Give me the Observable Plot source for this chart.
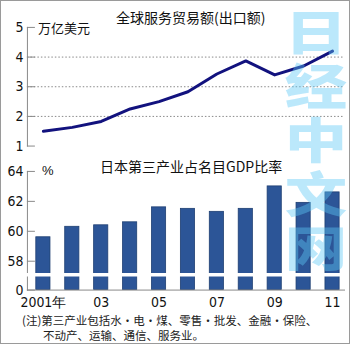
<!DOCTYPE html>
<html>
<head>
<meta charset="utf-8">
<script src="https://cdn.jsdelivr.net/npm/d3@7"></script>
<script src="https://cdn.jsdelivr.net/npm/@observablehq/plot@0.6"></script>
<style>
  html, body { margin: 0; padding: 0; background: #fff; }
  #wrap { position: relative; width: 350px; height: 344px; box-sizing: border-box; border: 1px solid #9a9a9a; overflow: hidden; background: #fff;
          font-family: "Noto Sans CJK SC", "Liberation Sans", sans-serif; color: #111; }
  #wrap .abs { position: absolute; white-space: nowrap; line-height: 1; }
  #top, #bottom { position: absolute; left: -1px; }
  #top { top: -1px; }
  #bottom { top: 149px; }
  .t { font-size: 14px; }
  .note { font-size: 11.5px; color: #222; }
  #wm { position: absolute; left: 291px; top: 7px; width: 48px; font-family: "Noto Sans CJK SC", sans-serif;
        writing-mode: vertical-rl; text-orientation: upright; white-space: nowrap;
        font-weight: 900; font-size: 48px; line-height: 48px; letter-spacing: 6px; color: rgba(92, 200, 245, 0.42); pointer-events: none;
        transform: scaleX(1.3); transform-origin: center; }
</style>
</head>
<body>
<div id="wrap">
  <div id="top"></div>
  <div id="bottom"></div>
  <div class="abs t" style="left:115px; top:9px;">全球服务贸易额(出口额)</div>
  <div class="abs" style="left:37px; top:20px; font-size:13px;">万亿美元</div>
  <div class="abs t" style="left:99px; top:158px;">日本第三产业占名目GDP比率</div>
  <div class="abs t" style="left:41px; top:163px; font-family:'Liberation Sans', sans-serif; font-size:13px;">%</div>
  <div class="abs note" style="left:21px; top:314px;">(注)第三产业包括水・电・煤、零售・批发、金融・保险、</div>
  <div class="abs note" style="left:42px; top:329px;">不动产、运输、通信、服务业。</div>
  <div id="wm">日经中文网</div>
</div>
<script>
const years = [2001, 2002, 2003, 2004, 2005, 2006, 2007, 2008, 2009, 2010, 2011];
const tradeValues = [1.5, 1.63, 1.83, 2.25, 2.5, 2.83, 3.43, 3.87, 3.4, 3.7, 4.2];
const gdpShare = [59.6, 60.3, 60.4, 60.6, 61.6, 61.5, 61.3, 61.5, 63.0, 61.9, 62.6];
const xTickYears = [2001, 2003, 2005, 2007, 2009, 2011];
const xTickLabels = ["2001年", "03", "05", "07", "09", "11"];
const topTicks = [1, 2, 3, 4, 5];
const topGrid = [2, 3, 4];
const bottomTicks = [58, 60, 62, 64];
const bottomFloor = 56.07;   // stands for the "0" of the broken axis
const breakAt = 57.1;

const trade = years.map((y, i) => ({year: y, value: tradeValues[i]}));
const share = years.map((y, i) => ({year: y, value: gdpShare[i]}));

const fontStyle = {fontFamily: "'Liberation Sans Narrow', 'DejaVu Sans Condensed', 'Liberation Sans', Arial, sans-serif", fontSize: "14px", color: "#111", background: "transparent", overflow: "visible"};

const topChart = Plot.plot({
  width: 350, height: 155,
  marginTop: 27, marginBottom: 9, marginLeft: 27, marginRight: 5,
  style: fontStyle,
  x: {domain: [2001, 2011], insetLeft: 16, insetRight: 12, axis: null},
  y: {domain: [1, 5], axis: null},
  marks: [
    Plot.gridY(topGrid, {stroke: "#8a8a8a", strokeOpacity: 1, strokeDasharray: "1.5,2"}),
    Plot.frame({anchor: "left", stroke: "#8a8a8a"}),
    Plot.axisY(topTicks, {label: null, tickSize: -8, tickPadding: 12, stroke: "#8a8a8a", fill: "#111"}),
    Plot.line(trade, {x: "year", y: "value", stroke: "#12127e", strokeWidth: 3, strokeLinejoin: "round"})
  ]
});
document.getElementById("top").appendChild(topChart);

const bottomChart = Plot.plot({
  width: 350, height: 160,
  marginTop: 21, marginBottom: 20, marginLeft: 27, marginRight: 5,
  style: fontStyle,
  x: {domain: [2001, 2011], insetLeft: 16, insetRight: 12, axis: null},
  y: {domain: [bottomFloor, 64], axis: null},
  marks: [
    Plot.rect(share, {x1: d => d.year - 0.245, x2: d => d.year + 0.245, y1: d => bottomFloor, y2: "value",
      fill: "#2c5597", stroke: "#1e3f72", strokeWidth: 0.8}),
    Plot.frame({anchor: "left", stroke: "#8a8a8a"}),
    Plot.frame({anchor: "bottom", stroke: "#8a8a8a"}),
    Plot.axisY([bottomFloor, ...bottomTicks], {label: null, tickSize: -8, tickPadding: 12, stroke: "#8a8a8a", fill: "#111",
      tickFormat: d => d < 57 ? "0" : String(d)}),
    Plot.ruleY([breakAt], {stroke: "white", strokeWidth: 3.5, insetLeft: -3, insetRight: -3}),
    Plot.axisX(xTickYears, {label: null, tickSize: 0, tickPadding: 7, fill: "#111",
      tickFormat: d => xTickLabels[xTickYears.indexOf(d)]})
  ]
});
document.getElementById("bottom").appendChild(bottomChart);
</script>
</body>
</html>
